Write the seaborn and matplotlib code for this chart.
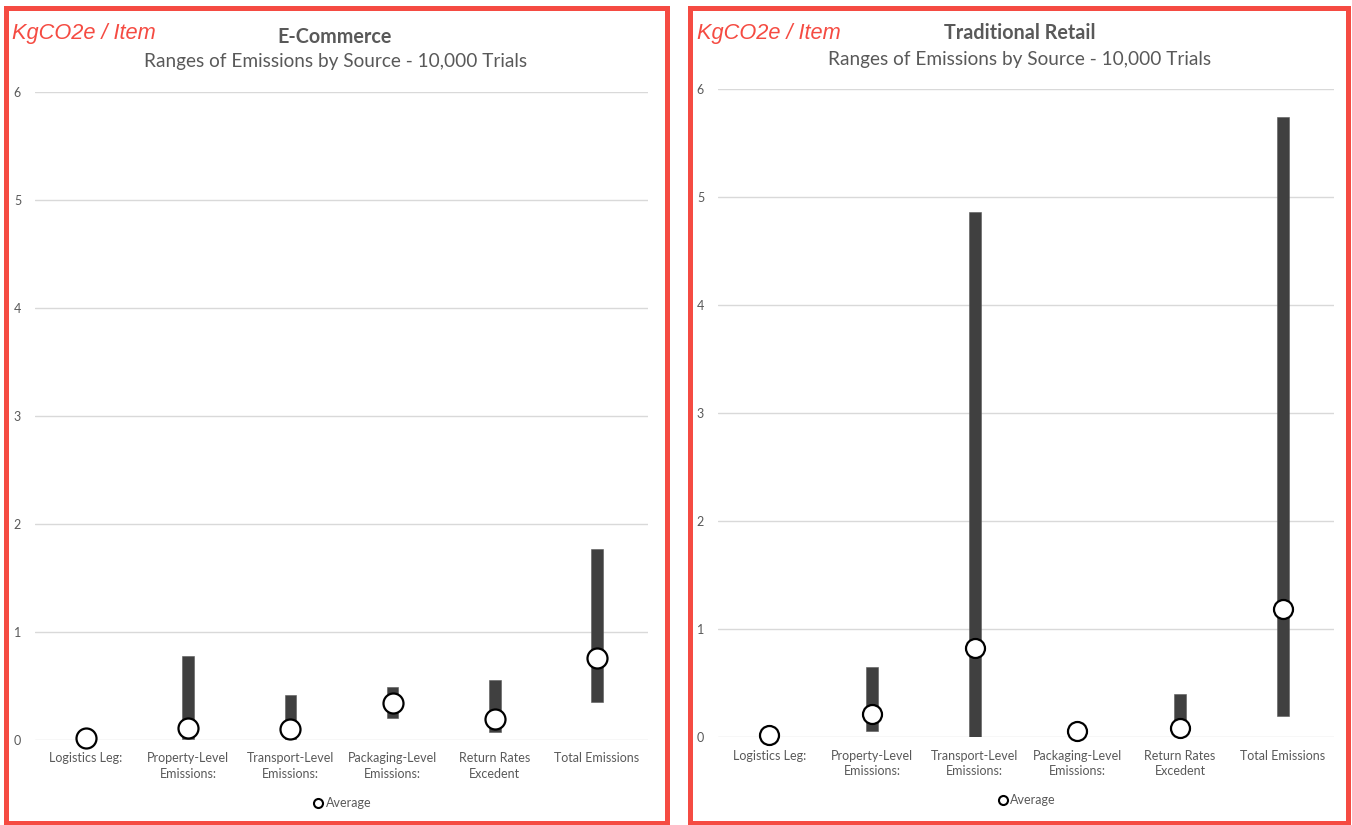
import numpy as np
import pandas as pd
import matplotlib
matplotlib.use("Agg")
import matplotlib.pyplot as plt
from matplotlib.patches import Rectangle
from matplotlib.lines import Line2D
import seaborn as sns

# Emission sources (x categories)
categories = ["Logistics Leg:", "Property-Level\nEmissions:", "Transport-Level\nEmissions:",
              "Packaging-Level\nEmissions:", "Return Rates\nExcedent", "Total Emissions"]

# E-Commerce: simulated range (min / max) and average, kgCO2e per item
ecom_low = [np.nan, 0.01, 0.01, 0.20, 0.07, 0.35]
ecom_high = [np.nan, 0.78, 0.42, 0.49, 0.56, 1.77]
ecom_avg = [0.02, 0.11, 0.10, 0.34, 0.19, 0.76]

# Traditional Retail
retail_low = [np.nan, 0.055, 0.00, np.nan, 0.04, 0.19]
retail_high = [np.nan, 0.645, 4.86, np.nan, 0.40, 5.74]
retail_avg = [0.02, 0.21, 0.82, 0.055, 0.086, 1.185]

y_ticks = [0, 1, 2, 3, 4, 5, 6]
panel_titles = ["E-Commerce", "Traditional Retail"]
subtitle = "Ranges of Emissions by Source - 10,000 Trials"
unit_label = "KgCO2e / Item"

sns.set_theme(style="white")
plt.rcParams["font.family"] = ["Lato", "DejaVu Sans"]

W, H = 1352, 825
fig = plt.figure(figsize=(W / 100, H / 100), dpi=100)
fig.patch.set_facecolor("white")

RED = "#F54B42"
GRAY_TXT = "#595959"
BAR = "#404040"


def px_box(x0, y0, x1, y1):
    """Convert a pixel box (top-left origin) to figure fractions."""
    return [x0 / W, 1 - y1 / H, (x1 - x0) / W, (y1 - y0) / H]


panels = [
    dict(ax=(35, 92, 648, 740), frame=(5.5, 7.5, 666.5, 822.5), low=ecom_low, high=ecom_high,
         avg=ecom_avg, ms=20, unit=(12, 33), title=(335, 37), sub=(336, 62), leg=803),
    dict(ax=(718, 89, 1334, 737), frame=(689.5, 7.5, 1348, 822.5), low=retail_low, high=retail_high,
         avg=retail_avg, ms=19, unit=(697, 33), title=(1020, 33), sub=(1020, 59), leg=800),
]

for i, p in enumerate(panels):
    # Red frame around each panel
    fx0, fy0, fx1, fy1 = p["frame"]
    fig.patches.append(Rectangle((fx0 / W, 1 - fy1 / H), (fx1 - fx0) / W, (fy1 - fy0) / H,
                                 transform=fig.transFigure, fill=False, edgecolor=RED,
                                 linewidth=3.6, zorder=10))

    ax = fig.add_axes(px_box(*p["ax"]))
    df = pd.DataFrame({"pos": np.arange(len(categories)), "category": categories,
                       "low": p["low"], "high": p["high"], "avg": p["avg"]})

    # Range bars (min to max)
    ax.bar(df["pos"], df["high"] - df["low"], bottom=df["low"], width=0.115,
           color=BAR, edgecolor="#5a5a5a", linewidth=0.4, zorder=2)

    # Average markers
    sns.scatterplot(data=df, x="pos", y="avg", ax=ax, s=(p["ms"] * 0.72) ** 2,
                    facecolor="white", edgecolor="black", linewidth=1.6, zorder=3,
                    clip_on=False, legend=False)

    ax.set_xlim(-0.5, len(categories) - 0.5)
    ax.set_ylim(0, 6)
    ax.set_yticks(y_ticks)
    ax.set_xticks(df["pos"])
    ax.set_xticklabels(categories, fontsize=9, color=GRAY_TXT, linespacing=1.35)
    ax.set_yticklabels([str(t) for t in y_ticks], fontsize=9, color=GRAY_TXT)
    ax.tick_params(axis="both", length=0)
    ax.tick_params(axis="y", pad=10)
    ax.tick_params(axis="x", pad=9)
    ax.set_xlabel("")
    ax.set_ylabel("")
    ax.grid(axis="y", color="#d9d9d9", linewidth=1.0, zorder=0)
    ax.set_axisbelow(True)
    for s in ax.spines.values():
        s.set_visible(False)

    # Legend
    handle = Line2D([], [], linestyle="none", marker="o", markersize=6.5,
                    markerfacecolor="white", markeredgecolor="black", markeredgewidth=1.5)
    ax.legend([handle], ["Average"], loc="center",
              bbox_to_anchor=(0.5, -(p["leg"] - p["ax"][3]) / (p["ax"][3] - p["ax"][1])),
              frameon=False, fontsize=9, handletextpad=0.1, handlelength=1.0,
              labelcolor=GRAY_TXT)

    # Titles
    ux, uy = p["unit"]
    fig.text(ux / W, 1 - uy / H, unit_label, color=RED, fontsize=15.7, style="italic",
             family=["Liberation Sans", "DejaVu Sans"], ha="left", va="center")
    tx, ty = p["title"]
    fig.text(tx / W, 1 - ty / H, panel_titles[i], color=GRAY_TXT, fontsize=14.2,
             fontweight="bold", ha="center", va="center")
    sx, sy = p["sub"]
    fig.text(sx / W, 1 - sy / H, subtitle, color=GRAY_TXT, fontsize=13.7,
             ha="center", va="center")

fig.savefig("out.png", dpi=100, facecolor="white")
